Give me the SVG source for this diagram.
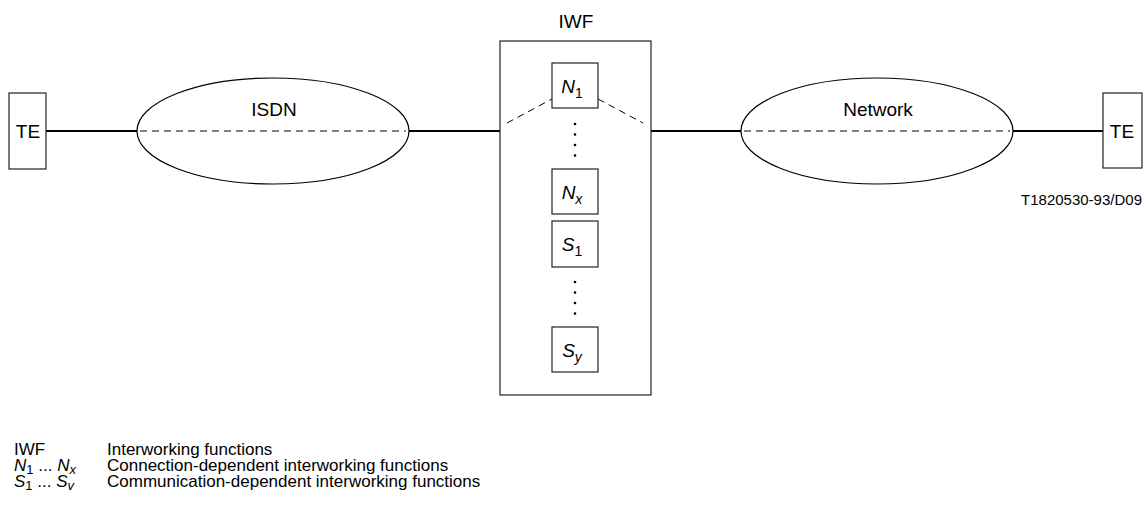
<svg xmlns="http://www.w3.org/2000/svg" width="1147" height="508" viewBox="0 0 1147 508">
<style>
text{font-family:"Liberation Sans",Arial,sans-serif;fill:#000}
.lbl{font-size:19px;text-anchor:middle}
.box{fill:#fff;stroke:#222;stroke-width:1.2}
.ell{fill:#fff;stroke:#000;stroke-width:1.2}
.solid{stroke:#000;stroke-width:2;fill:none}
.dash{stroke:#000;stroke-width:1;stroke-dasharray:7 5;fill:none}
.it{font-style:italic}
.leg{font-size:17px}
</style>
<g id="connectors">
<line class="solid" x1="46" y1="131" x2="137" y2="131"/>
<line class="solid" x1="409" y1="131" x2="500" y2="131"/>
<line class="solid" x1="651" y1="131" x2="741" y2="131"/>
<line class="solid" x1="1013" y1="131" x2="1103" y2="131"/>
</g>
<g id="te-left">
<rect class="box" x="9" y="93" width="37" height="76"/>
<text class="lbl" x="28" y="138">TE</text>
</g>
<g id="isdn">
<ellipse class="ell" cx="273" cy="131" rx="136" ry="53"/>
<line class="dash" x1="140" y1="131" x2="406" y2="131"/>
<text class="lbl" x="274" y="116">ISDN</text>
</g>
<g id="iwf">
<text class="lbl" x="576" y="28">IWF</text>
<rect class="box" x="500" y="41" width="151" height="354"/>
<line class="dash" x1="507" y1="123" x2="552" y2="99"/>
<line class="dash" x1="598" y1="99" x2="643" y2="123"/>
<g fill="#000">
<circle cx="575" cy="124" r="1.3"/><circle cx="575" cy="134.5" r="1.3"/><circle cx="575" cy="145" r="1.3"/><circle cx="575" cy="155.5" r="1.3"/>
<circle cx="575" cy="282" r="1.3"/><circle cx="575" cy="292.5" r="1.3"/><circle cx="575" cy="303" r="1.3"/><circle cx="575" cy="313.5" r="1.3"/>
</g>
</g>
<g id="n1">
<rect class="box" x="552" y="63" width="46" height="45"/>
<text x="572" y="93" font-size="19" text-anchor="middle"><tspan class="it">N</tspan><tspan font-size="14" dy="5">1</tspan></text>
</g>
<g id="nx">
<rect class="box" x="552" y="169" width="46" height="45"/>
<text x="572" y="199" font-size="19" text-anchor="middle"><tspan class="it">N</tspan><tspan class="it" font-size="14" dy="5">x</tspan></text>
</g>
<g id="s1">
<rect class="box" x="552" y="221" width="46" height="46"/>
<text x="572" y="251" font-size="19" text-anchor="middle"><tspan class="it">S</tspan><tspan font-size="14" dy="5">1</tspan></text>
</g>
<g id="sy">
<rect class="box" x="552" y="327" width="46" height="45"/>
<text x="572" y="357" font-size="19" text-anchor="middle"><tspan class="it">S</tspan><tspan class="it" font-size="14" dy="5">y</tspan></text>
</g>
<g id="network">
<ellipse class="ell" cx="877" cy="131" rx="136" ry="53"/>
<line class="dash" x1="744" y1="131" x2="1010" y2="131"/>
<text class="lbl" x="878" y="116">Network</text>
</g>
<g id="te-right">
<rect class="box" x="1103" y="93" width="39" height="75"/>
<text class="lbl" x="1122" y="138">TE</text>
</g>
<text x="1142" y="205" font-size="15" text-anchor="end">T1820530-93/D09</text>
<g id="legend" class="leg">
<text x="14" y="455">IWF</text>
<text x="107" y="455">Interworking functions</text>
<text x="14" y="471"><tspan class="it">N</tspan><tspan font-size="13" dy="3">1</tspan><tspan dy="-3"> ... </tspan><tspan class="it">N</tspan><tspan class="it" font-size="13" dy="3">x</tspan></text>
<text x="107" y="471">Connection-dependent interworking functions</text>
<text x="14" y="487"><tspan class="it">S</tspan><tspan font-size="13" dy="3">1</tspan><tspan dy="-3"> ... </tspan><tspan class="it">S</tspan><tspan class="it" font-size="13" dy="3">v</tspan></text>
<text x="107" y="487">Communication-dependent interworking functions</text>
</g>
</svg>
